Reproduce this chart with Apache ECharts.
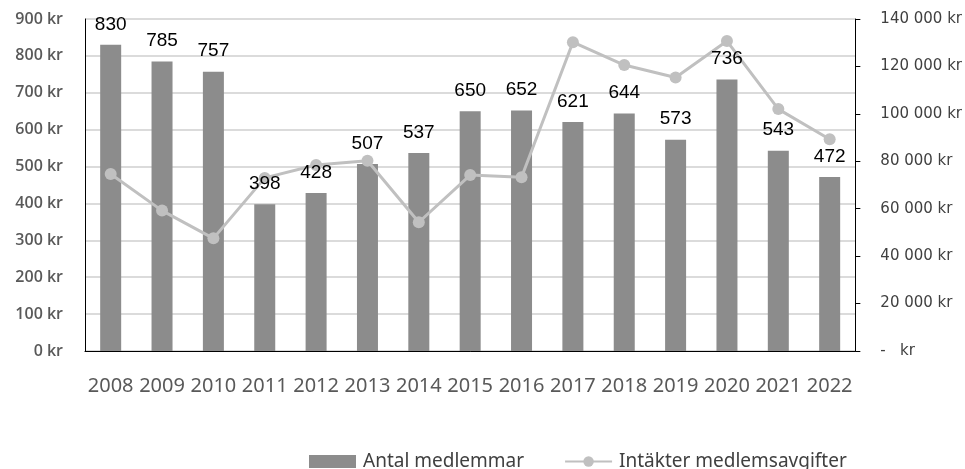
<!DOCTYPE html>
<html>
<head>
<meta charset="utf-8">
<script src="https://cdn.jsdelivr.net/npm/echarts@6/dist/echarts.min.js"></script>
<style>html,body{margin:0;padding:0;background:#fff}#c{width:965px;height:469px}</style>
</head>
<body>
<div id="c"></div>
<script>
const years = ['2008','2009','2010','2011','2012','2013','2014','2015','2016','2017','2018','2019','2020','2021','2022'];
const members = [830,785,757,398,428,507,537,650,652,621,644,573,736,543,472];
const fees = [74600,59200,47500,73000,78400,80200,54300,74200,73300,130200,120600,115300,130700,102000,89300];
const leftTicks = {min:0, max:900, interval:100};
const rightTicks = {min:0, max:140000, interval:20000};

function spaced(v){return String(v).replace(/\B(?=(\d{3})+(?!\d))/g,' ');}

const chart = echarts.init(document.getElementById('c'), null, {renderer:'canvas'});
chart.setOption({
  animation:false,
  backgroundColor:'#fff',
  grid:{left:85,right:108,top:19,bottom:118,containLabel:false},
  legend:{
    left:304, top:447,
    itemWidth:47, itemHeight:13, itemGap:40,
    textStyle:{fontFamily:'Noto Sans', fontSize:19, color:'#404040', padding:[0,0,0,2]},
    data:[
      {name:'Antal medlemmar', icon:'rect'},
      {name:'Intäkter medlemsavgifter'}
    ]
  },
  xAxis:{
    type:'category', data:years,
    axisLine:{lineStyle:{color:'#000',width:1}},
    axisTick:{show:false},
    axisLabel:{fontFamily:'Noto Sans', fontSize:20, color:'#595959', margin:25, interval:0}
  },
  yAxis:[
    {type:'value', min:leftTicks.min, max:leftTicks.max, interval:leftTicks.interval,
     axisLine:{show:true, lineStyle:{color:'#000',width:1}},
     axisTick:{show:false},
     splitLine:{lineStyle:{color:'#cfcfcf',width:1.5}},
     axisLabel:{fontFamily:'Open Sans', fontWeight:600, fontSize:16, color:'#595959', margin:22,
       formatter:v=>v+' kr'}},
    {type:'value', position:'right', min:rightTicks.min, max:rightTicks.max, interval:rightTicks.interval,
     axisLine:{show:true, lineStyle:{color:'#000',width:1}},
     axisTick:{show:true, inside:false, length:5, lineStyle:{color:'#000'}},
     splitLine:{show:false},
     axisLabel:{fontFamily:'DejaVu Sans', fontSize:15, color:'#404040', margin:25,
       formatter:v=> v===0 ? '-   kr' : spaced(v)+' kr'}}
  ],
  series:[
    {name:'Antal medlemmar', type:'bar', yAxisIndex:0, data:members,
     z:2,
     barWidth:21,
     itemStyle:{color:'#8c8c8c'}},
    {name:'Intäkter medlemsavgifter', type:'line', yAxisIndex:1, data:fees,
     z:3,
     lineStyle:{color:'#c0c0c0', width:3},
     itemStyle:{color:'#c0c0c0'},
     symbol:'circle', symbolSize:12, showAllSymbol:true},
    {name:'labels', type:'bar', yAxisIndex:0, data:members,
     z:5, silent:true, barGap:'-100%', barWidth:21,
     itemStyle:{color:'rgba(0,0,0,0)'},
     label:{show:true, position:'top', distance:11, fontFamily:'Liberation Sans', fontSize:19, color:'#000'}}
  ]
});
</script>
</body>
</html>
